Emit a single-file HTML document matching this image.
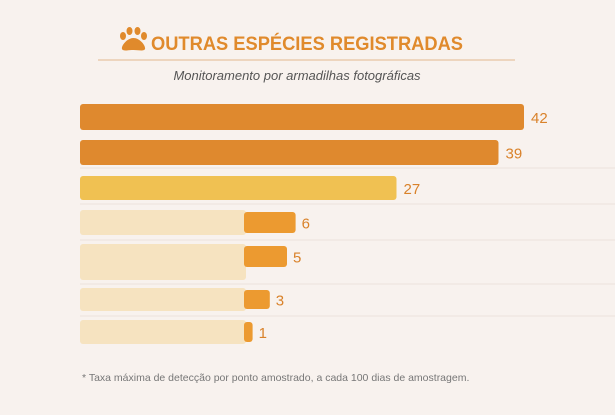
<!DOCTYPE html>
<html><head><meta charset="utf-8"><style>
body{margin:0;width:615px;height:410px;background:#f8f2ee;font-family:"Liberation Sans",sans-serif;overflow:hidden}
</style></head><body>
<svg width="615" height="410" xmlns="http://www.w3.org/2000/svg">
<g fill="#e08a2c">
<ellipse cx="123" cy="36" rx="3" ry="4"/><ellipse cx="129.5" cy="31" rx="3" ry="4"/><ellipse cx="137.5" cy="31" rx="3" ry="4"/><ellipse cx="144" cy="36" rx="3" ry="4"/>
<path d="M133.5 38 C127 38 121 46 122 49 C123 51.5 128 50 133.5 50 C139 50 144 51.5 145 49 C146 46 140 38 133.5 38Z"/>
</g>
<text x="151" y="50" font-size="19.5" font-weight="bold" fill="#e08a2c" textLength="312" lengthAdjust="spacingAndGlyphs">OUTRAS ESPÉCIES REGISTRADAS</text>
<line x1="98" y1="60" x2="515" y2="60" stroke="#e2b88e" stroke-width="1"/>
<text x="297" y="80" font-size="13" font-style="italic" fill="#555" text-anchor="middle">Monitoramento por armadilhas fotográficas</text>
<g id="rows"></g>
<text x="82" y="381" font-size="10.5" fill="#777">* Taxa máxima de detecção por ponto amostrado, a cada 100 dias de amostragem.</text>
</svg>
<script>
const values=[42,39,27,6,5,3,1];
const labels=["42","39","27","6","5","3","1"];
const rowsY=[104,140,176,212,246,290,322];
const rowH=[26,25,24,21,21,19,20];
const g=document.getElementById('rows');
const NS="http://www.w3.org/2000/svg";
function xBig(v){return 167+v*8.5;}
function xSmall(v){return 244+v*8.6;}
const grid=[168,204,240,284,316];
grid.forEach(y=>{const l=document.createElementNS(NS,'line');


l.setAttribute('x1',80);l.setAttribute('x2',615);l.setAttribute('y1',y);l.setAttribute('y2',y);l.setAttribute('stroke','#ece2dc');g.appendChild(l);});
values.forEach((v,i)=>{
 const y=rowsY[i],h=rowH[i];let x0,x1,fill;
 if(i<3){x0=80;x1=xBig(v);fill=i<2?'#df892e':'#f0c152';}
 else{
  const ph=document.createElementNS(NS,'rect');
  
  
  const ph_h=i===4?36:h+4;
  ph.setAttribute('x',80);ph.setAttribute('y',y-2);ph.setAttribute('width',166);ph.setAttribute('height',ph_h);ph.setAttribute('rx',3);ph.setAttribute('fill','#f6e3c0');g.appendChild(ph);
  x0=244;x1=xSmall(v);fill='#ec9a30';}
 const r=document.createElementNS(NS,'rect');
 
 
 r.setAttribute('x',x0);r.setAttribute('y',y);r.setAttribute('width',x1-x0);r.setAttribute('height',h);r.setAttribute('rx',3);r.setAttribute('fill',fill);g.appendChild(r);
 const t=document.createElementNS(NS,'text');
 
 
 t.setAttribute('x',x1+(i<3?7:6));t.setAttribute('y',y+h/2+6);t.setAttribute('font-size','15');t.setAttribute('fill','#d9822a');
 t.textContent=labels[i];g.appendChild(t);
});
</script>
</body></html>
